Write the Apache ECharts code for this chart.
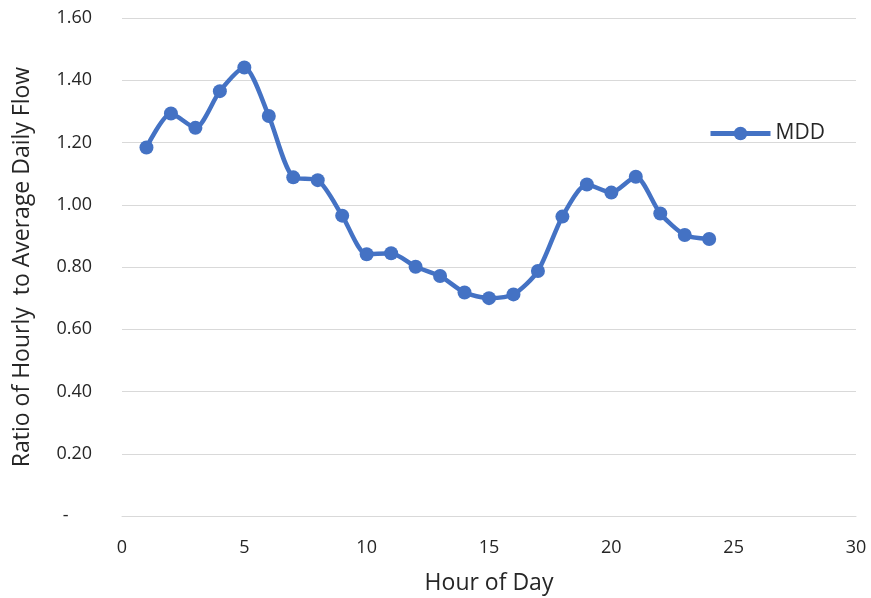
<!DOCTYPE html>
<html>
<head>
<meta charset="utf-8">
<script src="https://cdn.jsdelivr.net/npm/echarts@6/dist/echarts.min.js"></script>
<style>
  html, body { margin: 0; padding: 0; background: #ffffff; }
  #chart { width: 871px; height: 598px; }
</style>
</head>
<body>
<div id="chart"></div>
<script>
// Hourly peaking factors for maximum-day demand (MDD)
const hours = [1, 2, 3, 4, 5, 6, 7, 8, 9, 10, 11, 12, 13, 14, 15, 16, 17, 18, 19, 20, 21, 22, 23, 24];
const mddRatio = [1.184, 1.293, 1.247, 1.365, 1.441, 1.285, 1.088, 1.079, 0.965, 0.841, 0.844, 0.801,
                  0.771, 0.718, 0.700, 0.712, 0.787, 0.962, 1.065, 1.039, 1.090, 0.972, 0.903, 0.890];
const seriesName = 'MDD';
const xTitle = 'Hour of Day';
const yTitle = 'Ratio of Hourly  to Average Daily Flow';

const points = hours.map((h, i) => [h, mddRatio[i]]);
const font = '"Open Sans", "Noto Sans", sans-serif';
const blue = '#4472C4';
const textColor = '#262626';

const chart = echarts.init(document.getElementById('chart'), null, { renderer: 'canvas' });
chart.setOption({
  animation: false,
  backgroundColor: '#ffffff',
  grid: { left: 122, right: 15, top: 18, bottom: 82, containLabel: false, outerBoundsMode: 'none' },
  legend: {
    data: [seriesName],
    left: 703,
    top: 118,
    itemWidth: 60,
    itemHeight: 17,
    itemGap: 4,
    lineStyle: { width: 5 },
    textStyle: { fontFamily: font, fontSize: 21, color: textColor }
  },
  xAxis: {
    type: 'value',
    min: 0,
    max: 30,
    interval: 5,
    name: xTitle,
    nameLocation: 'middle',
    nameGap: 56,
    nameTextStyle: { fontFamily: font, fontSize: 23, color: textColor },
    axisLine: { show: true, lineStyle: { color: '#d9d9d9', width: 1 } },
    axisTick: { show: false },
    splitLine: { show: false },
    axisLabel: { fontFamily: font, fontSize: 18, color: textColor, margin: 23 }
  },
  yAxis: {
    type: 'value',
    min: 0,
    max: 1.6,
    interval: 0.2,
    name: yTitle,
    nameLocation: 'middle',
    nameGap: 88,
    nameTextStyle: { fontFamily: font, fontSize: 23, color: textColor },
    axisLine: { show: false },
    axisTick: { show: false },
    splitLine: { show: true, lineStyle: { color: '#d9d9d9', width: 1 } },
    axisLabel: {
      fontFamily: font, fontSize: 18, color: textColor, margin: 30,
      formatter: v => (Math.abs(v) < 1e-9 ? '-     ' : v.toFixed(2))
    }
  },
  series: [{
    name: seriesName,
    type: 'line',
    data: points,
    smooth: 0.25,
    symbol: 'circle',
    symbolSize: 14,
    lineStyle: { color: blue, width: 4.5 },
    itemStyle: { color: blue }
  }]
});
</script>
</body>
</html>
